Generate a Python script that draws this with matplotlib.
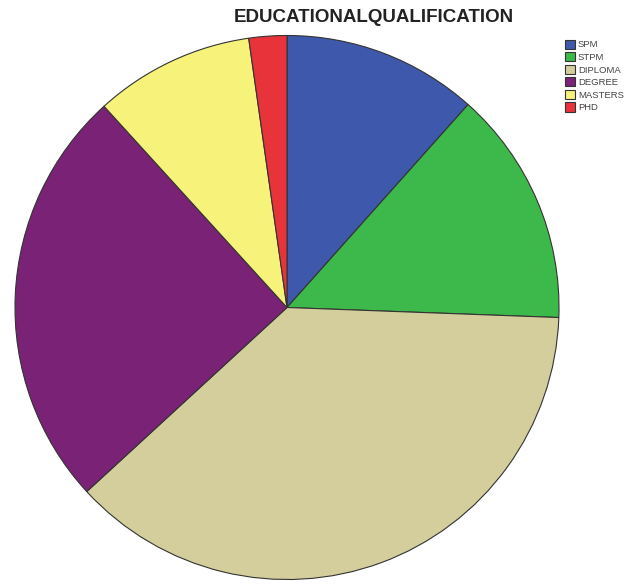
import numpy as np
import matplotlib.pyplot as plt

labels = ['SPM', 'STPM', 'DIPLOMA', 'DEGREE', 'MASTERS', 'PHD']
values = [11.6, 14.0, 37.6, 25.1, 9.5, 2.25]
colors = ['#3E58AC', '#3CB94A', '#D4CE9C', '#7A2276', '#F6F27A', '#E8333A']

plt.rcParams['font.family'] = ['Liberation Sans', 'DejaVu Sans']

fig = plt.figure(figsize=(6.38, 5.85), dpi=100)
ax = fig.add_axes([15/638, 5/585, 544/638, 545/585])

wedges, _ = ax.pie(values, colors=colors, startangle=90, counterclock=False,
                   radius=1.0, wedgeprops=dict(edgecolor='#333333', linewidth=0.8))
ax.set_xlim(-1.0, 1.0)
ax.set_ylim(-1.0, 1.0)
ax.set_aspect('equal')

fig.text(374/638, 1 - 18/585, 'EDUCATIONALQUALIFICATION', ha='center', va='center',
         fontsize=13.5, fontweight='bold', color='#222222')

leg = fig.legend(wedges, labels, loc='upper left', bbox_to_anchor=(558/638, 1 - 33/585),
                 frameon=False, fontsize=6.8, handlelength=1.1, handleheight=1.1,
                 handletextpad=0.3, labelspacing=0.3, borderpad=0.2)
for t in leg.get_texts():
    t.set_color('#444444')

fig.savefig('out.png', dpi=100)
